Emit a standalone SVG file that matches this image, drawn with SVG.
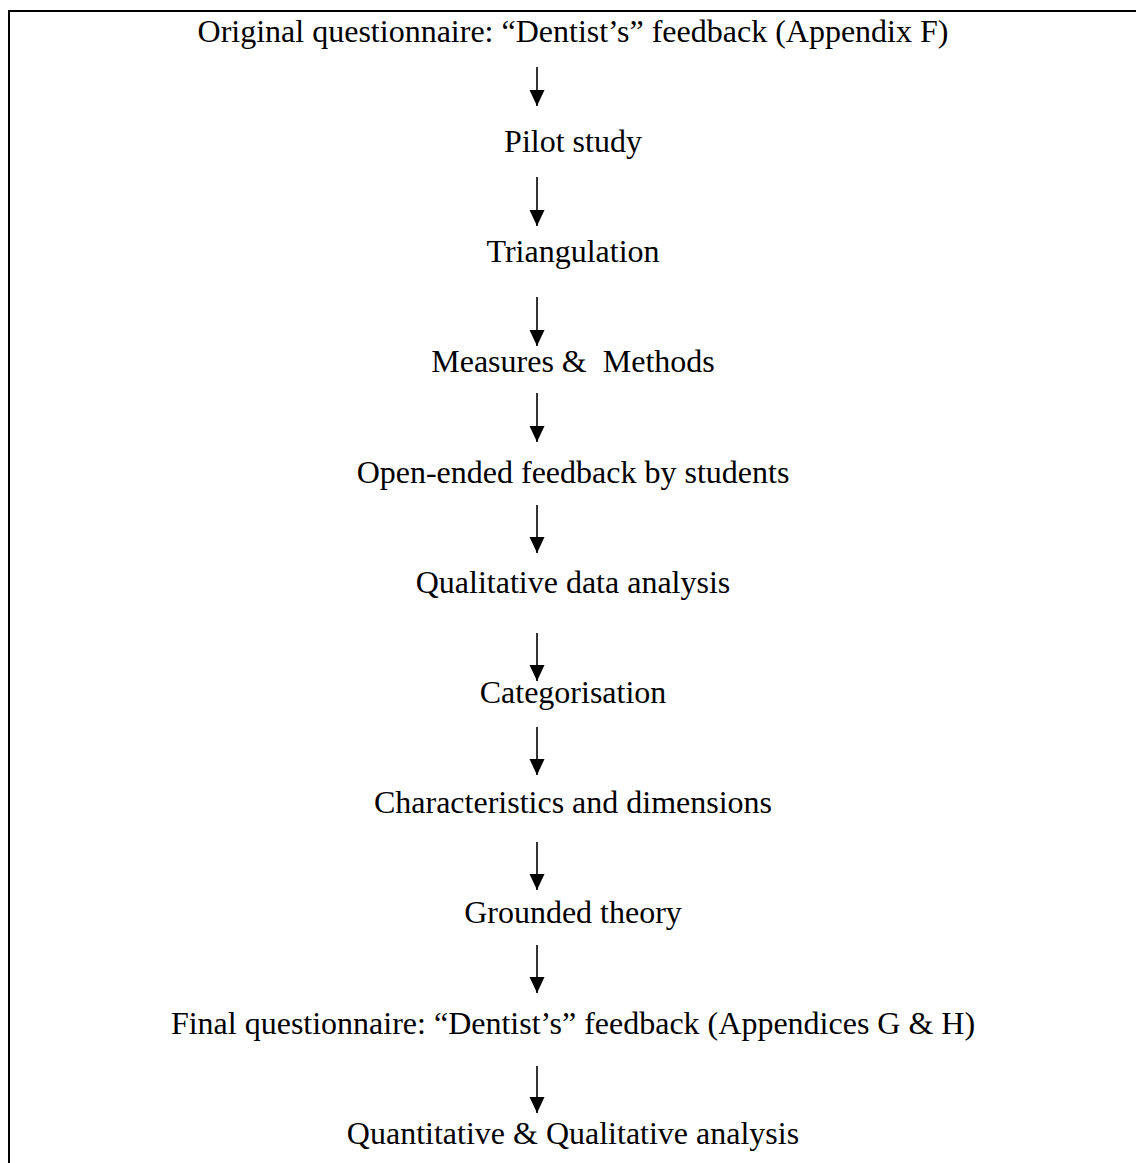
<svg xmlns="http://www.w3.org/2000/svg" width="1136" height="1163" viewBox="0 0 1136 1163">
  <style>
    .t { font-family: "Liberation Serif", "Times New Roman", serif; font-size: 32px; fill: #000; text-anchor: middle; white-space: pre; }
    .c { stroke: #000; stroke-width: 1.6; fill: none; marker-end: url(#ah); }
  </style>
  <defs>
    <marker id="ah" markerUnits="userSpaceOnUse" markerWidth="16" markerHeight="16" refX="16" refY="7.5" orient="auto">
      <path d="M0,0 L16,7.5 L0,15 Z" fill="#000"/>
    </marker>
  </defs>
  <rect width="1136" height="1163" fill="#fff"/>
  <path d="M9,1163 V11 H1136" stroke="#000" stroke-width="2" fill="none"/>
  <g id="n1"><text class="t" x="573" y="42">Original questionnaire: “Dentist’s” feedback (Appendix F)</text></g>
  <g id="n2"><text class="t" x="573" y="152">Pilot study</text></g>
  <g id="n3"><text class="t" x="573" y="262">Triangulation</text></g>
  <g id="n4"><text class="t" x="573" y="372" xml:space="preserve">Measures &amp;  Methods</text></g>
  <g id="n5"><text class="t" x="573" y="483">Open-ended feedback by students</text></g>
  <g id="n6"><text class="t" x="573" y="593">Qualitative data analysis</text></g>
  <g id="n7"><text class="t" x="573" y="703">Categorisation</text></g>
  <g id="n8"><text class="t" x="573" y="813">Characteristics and dimensions</text></g>
  <g id="n9"><text class="t" x="573" y="923">Grounded theory</text></g>
  <g id="n10"><text class="t" x="573" y="1034">Final questionnaire: “Dentist’s” feedback (Appendices G &amp; H)</text></g>
  <g id="n11"><text class="t" x="573" y="1144">Quantitative &amp; Qualitative analysis</text></g>
  <g id="connectors">
    <line class="c" x1="537" y1="67" x2="537" y2="106"/>
    <line class="c" x1="537" y1="177" x2="537" y2="226"/>
    <line class="c" x1="537" y1="297" x2="537" y2="346"/>
    <line class="c" x1="537" y1="393" x2="537" y2="442"/>
    <line class="c" x1="537" y1="505" x2="537" y2="553"/>
    <line class="c" x1="537" y1="633" x2="537" y2="681"/>
    <line class="c" x1="537" y1="727" x2="537" y2="775"/>
    <line class="c" x1="537" y1="842" x2="537" y2="890"/>
    <line class="c" x1="537" y1="945" x2="537" y2="993"/>
    <line class="c" x1="537" y1="1066" x2="537" y2="1113"/>
  </g>
</svg>
